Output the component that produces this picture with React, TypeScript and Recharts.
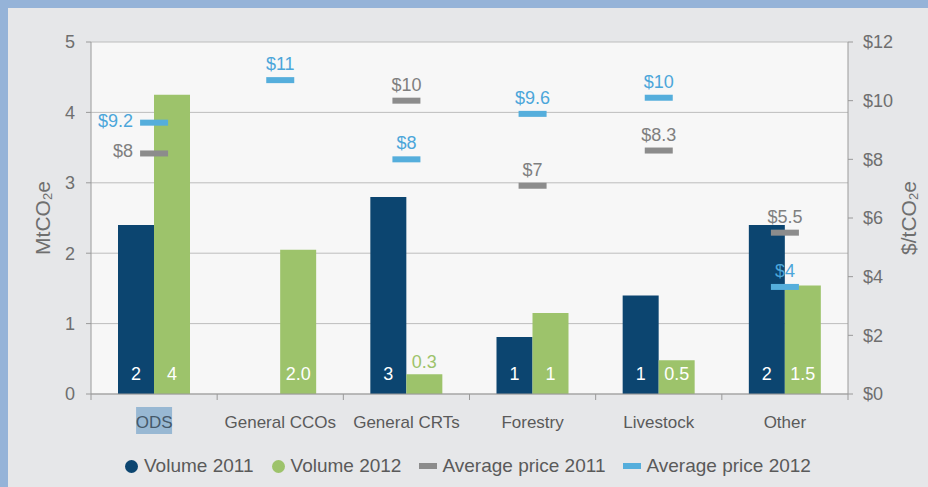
import React from "react";
import {
  ComposedChart,
  Bar,
  Line,
  XAxis,
  YAxis,
  CartesianGrid,
  LabelList,
} from "recharts";

const categories = ["ODS", "General CCOs", "General CRTs", "Forestry", "Livestock", "Other"];
const volume2011 = [2.4, null, 2.8, 0.81, 1.4, 2.4];
const volume2012 = [4.25, 2.05, 0.28, 1.15, 0.48, 1.54];
const volume2011Labels = ["2", "", "3", "1", "1", "2"];
const volume2012Labels = ["4", "2.0", "0.3", "1", "0.5", "1.5"];
const price2011 = [8.2, null, 10.0, 7.1, 8.3, 5.5];
const price2012 = [9.25, 10.7, 8.0, 9.55, 10.1, 3.65];
const price2011Labels = ["$8", "", "$10", "$7", "$8.3", "$5.5"];
const price2012Labels = ["$9.2", "$11", "$8", "$9.6", "$10", "$4"];
const leftTicks = [0, 1, 2, 3, 4, 5];
const rightTicks = [0, 2, 4, 6, 8, 10, 12];

const data = categories.map((name, i) => ({
  name,
  v2011: volume2011[i],
  v2012: volume2012[i],
  v2011Label: volume2011Labels[i],
  v2012Label: volume2012Labels[i],
  p2011: price2011[i],
  p2012: price2012[i],
  p2011Label: price2011Labels[i],
  p2012Label: price2012Labels[i],
}));

const FONT = "'Liberation Sans', Arial, Helvetica, sans-serif";
const CHART_W = 920;
const CHART_H = 479;
const LEFT_W = 83;
const RIGHT_W = 80;
const BAND_W = (CHART_W - LEFT_W - RIGHT_W) / categories.length;

const DARK = "#0c4570";
const GREEN = "#9dc36b";
const GRAY_MARK = "#8c8c8c";
const BLUE_MARK = "#55aedc";
const AXIS = "#9a9a9a";
const TEXT = "#6f6f6f";

function CategoryTick(props: any) {
  const { x, y, payload, index } = props;
  const last = index === categories.length - 1;
  return (
    <g>
      <line x1={x - BAND_W / 2} x2={x - BAND_W / 2} y1={y} y2={y + 6} stroke={AXIS} />
      {last && <line x1={x + BAND_W / 2} x2={x + BAND_W / 2} y1={y} y2={y + 6} stroke={AXIS} />}
      {index === 0 && <rect x={x - 18} y={y + 13} width={36} height={27} fill="#98b8d3" />}
      <text
        x={x}
        y={y + 28}
        textAnchor="middle"
        dominantBaseline="central"
        fontSize={17}
        fontFamily={FONT}
        fill={index === 0 ? "#45586a" : "#5a5a5a"}
      >
        {payload.value}
      </text>
    </g>
  );
}

function makeBarLabel(fill: string) {
  return (props: any) => {
    const { x, y, width, height, value } = props;
    if (!value) return null;
    const small = height < 28;
    return (
      <text
        x={x + width / 2}
        y={small ? y - 12 : y + height - 20}
        textAnchor="middle"
        dominantBaseline="central"
        fontSize={18}
        fontFamily={FONT}
        fill={small ? fill : "#ffffff"}
      >
        {value}
      </text>
    );
  };
}

function makePriceDot(color: string, textColor: string, labelKey: string) {
  return (props: any) => {
    const { cx, cy, payload, index } = props;
    if (cx == null || cy == null || payload[labelKey] === "") return <g key={index} />;
    const left = index === 0;
    return (
      <g key={index}>
        <rect x={cx - 14} y={cy - 3} width={28} height={6} fill={color} />
        <text
          x={left ? cx - 21 : cx}
          y={left ? cy - 2 : cy - 16}
          textAnchor={left ? "end" : "middle"}
          dominantBaseline="central"
          fontSize={18}
          fontFamily={FONT}
          fill={textColor}
        >
          {payload[labelKey]}
        </text>
      </g>
    );
  };
}

function AxisTitle({ viewBox, offset, main, tail }: any) {
  const cx = viewBox.x + offset;
  const cy = viewBox.y + viewBox.height / 2;
  return (
    <text
      x={cx}
      y={cy}
      transform={`rotate(-90 ${cx} ${cy})`}
      textAnchor="middle"
      dominantBaseline="central"
      fontSize={21}
      fontFamily={FONT}
      fill={TEXT}
    >
      {main}
      <tspan fontSize={13} dy={5}>2</tspan>
      <tspan dy={-5}>{tail}</tspan>
    </text>
  );
}

const legendItems = [
  { name: "Volume 2011", color: DARK, shape: "circle" },
  { name: "Volume 2012", color: GREEN, shape: "circle" },
  { name: "Average price 2011", color: GRAY_MARK, shape: "dash" },
  { name: "Average price 2012", color: BLUE_MARK, shape: "dash" },
];

export default function App() {
  return (
    <div style={{ position: "fixed", left: 0, top: 0, width: 928, height: 487, background: "#95b3d8" }}>
      <div style={{ position: "absolute", left: 8, top: 8, width: CHART_W, height: CHART_H, background: "#e6e7e9" }}>
        <ComposedChart
          width={CHART_W}
          height={CHART_H}
          data={data}
          margin={{ top: 34, right: 0, bottom: 0, left: 0 }}
          barCategoryGap={27}
          barGap={0}
        >
          <CartesianGrid yAxisId="left" vertical={false} stroke="#bdbdbd" fill="#f7f7f7" />
          <XAxis
            dataKey="name"
            height={93}
            interval={0}
            tickLine={false}
            tickSize={0}
            tickMargin={0}
            stroke={AXIS}
            tick={<CategoryTick />}
          />
          <YAxis
            yAxisId="left"
            domain={[0, 5]}
            ticks={leftTicks}
            width={LEFT_W}
            tickSize={5}
            tickMargin={11}
            stroke={AXIS}
            tick={{ fill: TEXT, fontSize: 18, fontFamily: FONT }}
            label={{ content: (p: any) => <AxisTitle {...p} offset={34} main="MtCO" tail="e" /> }}
          />
          <YAxis
            yAxisId="right"
            orientation="right"
            domain={[0, 12]}
            ticks={rightTicks}
            width={RIGHT_W}
            tickSize={5}
            tickMargin={10}
            stroke={AXIS}
            tickFormatter={(v: number) => `$${v}`}
            tick={{ fill: TEXT, fontSize: 18, fontFamily: FONT }}
            label={{ content: (p: any) => <AxisTitle {...p} offset={60} main="$/tCO" tail="e" /> }}
          />
          <Bar yAxisId="left" dataKey="v2011" fill={DARK} isAnimationActive={false}>
            <LabelList dataKey="v2011Label" content={makeBarLabel(DARK)} />
          </Bar>
          <Bar yAxisId="left" dataKey="v2012" fill={GREEN} isAnimationActive={false}>
            <LabelList dataKey="v2012Label" content={makeBarLabel(GREEN)} />
          </Bar>
          <Line
            yAxisId="right"
            dataKey="p2011"
            stroke="none"
            isAnimationActive={false}
            activeDot={false}
            dot={makePriceDot(GRAY_MARK, "#7f7f7f", "p2011Label")}
          />
          <Line
            yAxisId="right"
            dataKey="p2012"
            stroke="none"
            isAnimationActive={false}
            activeDot={false}
            dot={makePriceDot(BLUE_MARK, "#4ca6da", "p2012Label")}
          />
        </ComposedChart>
        <div
          style={{
            position: "absolute",
            left: 117,
            top: 446,
            height: 24,
            display: "flex",
            alignItems: "center",
            fontFamily: FONT,
            fontSize: 19,
            color: "#5a5a5a",
            whiteSpace: "nowrap",
          }}
        >
          {legendItems.map((it) => (
            <div key={it.name} style={{ display: "flex", alignItems: "center", marginRight: 18 }}>
              <span
                style={
                  it.shape === "circle"
                    ? { width: 13, height: 13, borderRadius: "50%", background: it.color, marginRight: 6 }
                    : { width: 18, height: 6, background: it.color, marginRight: 5 }
                }
              />
              <span>{it.name}</span>
            </div>
          ))}
        </div>
      </div>
    </div>
  );
}
